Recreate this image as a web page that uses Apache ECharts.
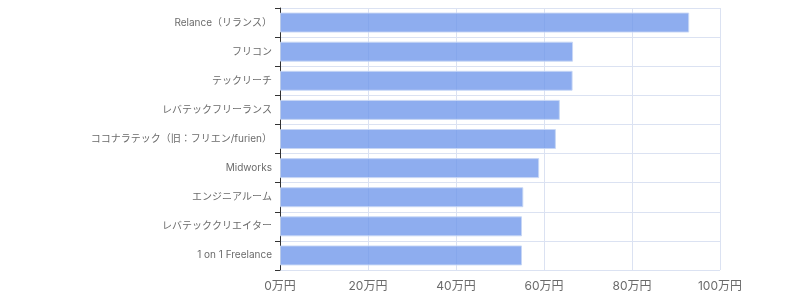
<!DOCTYPE html>
<html><head><meta charset="utf-8">
<script src="https://cdn.jsdelivr.net/npm/echarts@6/dist/echarts.min.js"></script>
<style>html,body{margin:0;padding:0;background:#fff}#c{width:800px;height:300px}</style>
</head><body><div id="c"></div>
<script>
const categories = ['Relance（リランス）','フリコン','テックリーチ','レバテックフリーランス','ココナラテック（旧：フリエン/furien）','Midworks','エンジニアルーム','レバテッククリエイター','1 on 1 Freelance'];
const values = [93.0, 66.6, 66.5, 63.6, 62.7, 58.9, 55.3, 55.0, 55.0];
const xTicks = {min: 0, max: 100, interval: 20, unit: '万円'};

const chart = echarts.init(document.getElementById('c'), null, {renderer: 'canvas'});
chart.setOption({
  animation: false,
  textStyle: {fontFamily: 'Inter, "Noto Sans CJK JP", sans-serif'},
  grid: {left: 280, right: 80, top: 8, bottom: 30},
  xAxis: {
    type: 'value', min: xTicks.min, max: xTicks.max, interval: xTicks.interval,
    axisLine: {show: false}, axisTick: {show: false},
    axisLabel: {color: '#6b6b6b', fontSize: 12, margin: 10, formatter: v => v + xTicks.unit},
    splitLine: {show: true, lineStyle: {color: '#dbe2f2', width: 1}}
  },
  yAxis: {
    type: 'category', inverse: true, data: categories,
    axisLine: {show: true, lineStyle: {color: '#333', width: 1}},
    axisTick: {show: true, length: 5, lineStyle: {color: '#333'}},
    axisLabel: {color: '#6b6b6b', fontSize: 10, margin: 8},
    splitLine: {show: true, lineStyle: {color: '#dbe2f2', width: 1}}
  },
  series: [{
    type: 'bar', data: values, barWidth: 20,
    itemStyle: {color: 'rgba(110,150,234,0.78)', borderColor: 'rgba(200,215,245,0.9)', borderWidth: 1}
  }]
});
</script></body></html>
